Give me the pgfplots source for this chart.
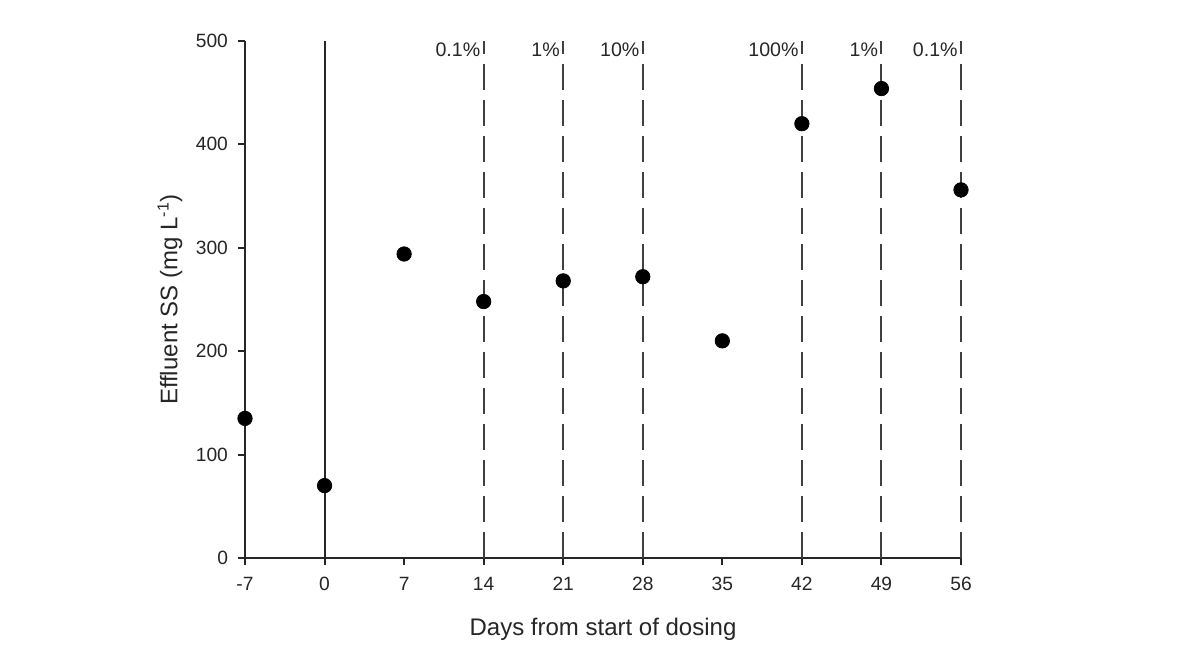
\documentclass[border=0pt]{standalone}
\usepackage{fontspec}
\setmainfont{Liberation Sans}
\usepackage{pgfplots}
\pgfplotsset{compat=1.18}

\begin{document}
\begin{tikzpicture}
\path[use as bounding box] (-122.5pt,-46.5pt) rectangle (479.5pt,279pt);
\begin{axis}[
  at={(0,0)}, anchor=south west,
  scale only axis,
  width=358pt, height=258.5pt,
  xmin=-7, xmax=56, ymin=0, ymax=500,
  axis lines=left,
  axis line style={black!85, line width=1pt, -},
  xtick={-7,0,7,14,21,28,35,42,49,56},
  ytick={0,100,200,300,400,500},
  tick align=outside,
  major tick length=3.5pt,
  tick style={black!85, line width=1pt},
  tick label style={font=\fontsize{9.6}{11}\selectfont, text=black!85},
  /pgf/number format/assume math mode=true,
  xticklabel style={yshift=-2.5pt},
  yticklabel style={xshift=-1.5pt},
  xlabel={Days from start of dosing},
  ylabel={Effluent SS (mg L\textsuperscript{-1})},
  label style={font=\fontsize{12}{14}\selectfont, text=black!85},
  xlabel style={at={(axis description cs:0.5,0)}, anchor=center, yshift=-35.5pt},
  ylabel style={at={(axis description cs:-0.1047,0.5)}, anchor=center},
  clip=false,
]
% reference line at the start of dosing
\addplot[black!85, line width=1pt] coordinates {(0,0) (0,500)};
% dosing step changes
\foreach \d/\lab in {14/0.1\%, 21/1\%, 28/10\%, 42/100\%, 49/1\%, 56/0.1\%} {
  \edef\temp{\noexpand\addplot[black!75, line width=1pt, dash pattern=on 13pt off 5pt] coordinates {(\d,0) (\d,500)};
  \noexpand\node[anchor=base east, inner sep=0pt, xshift=-1.5pt, yshift=-8pt,
     font=\noexpand\fontsize{9.8}{11}\noexpand\selectfont, text=black!85] at (axis cs:\d,500) {\lab};}
  \temp
}
% weekly effluent suspended solids
\addplot[only marks, mark=*, mark size=3.6pt, black] coordinates {
  (-7,135) (0,70) (7,294) (14,248) (21,268) (28,272) (35,210) (42,420) (49,454) (56,356)
};
\end{axis}
\end{tikzpicture}
\end{document}
